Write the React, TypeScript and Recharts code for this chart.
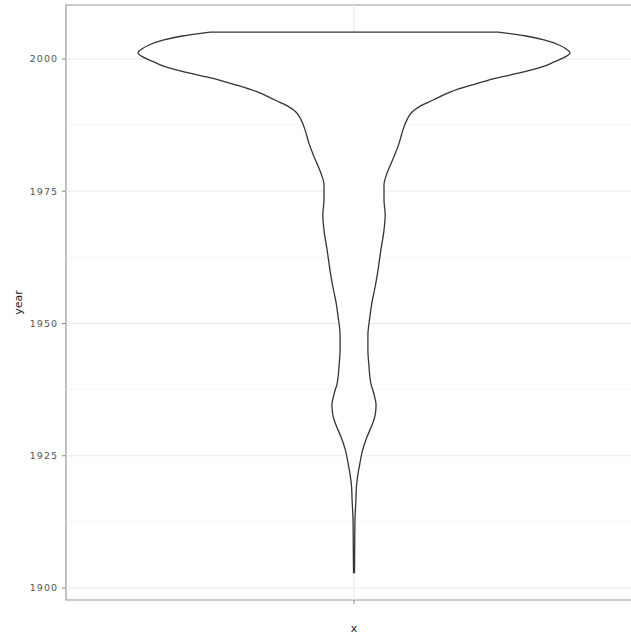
import React from "react";
import {
  ScatterChart,
  Scatter,
  XAxis,
  YAxis,
  ReferenceLine,
  ReferenceArea,
  Label,
} from "recharts";

// violin outline: year and half-width (x units, category at 1)
const years = [
  2005.1, 2004.35, 2003.6, 2002.65, 2001.9, 2001.15, 2000.4, 1999.45, 1998.5,
  1997.55, 1996.4, 1995.1, 1993.75, 1992.25, 1991.1, 1990.0, 1988.45, 1986.6,
  1984.1, 1981.5, 1978.45, 1976.2, 1973.35, 1970.5, 1967.65, 1963.9, 1960.1,
  1956.9, 1954.05, 1951.2, 1947.8, 1945.0, 1942.15, 1938.75, 1936.5, 1934.6,
  1932.7, 1930.8, 1928.55, 1926.1, 1923.65, 1921.4, 1919.1, 1916.65, 1912.9,
  1908.15, 1902.85,
];
const halfWidths = [
  0.3, 0.358, 0.396, 0.427, 0.442, 0.45, 0.44, 0.417, 0.392, 0.354, 0.296,
  0.246, 0.2, 0.165, 0.138, 0.121, 0.11, 0.102, 0.094, 0.083, 0.069, 0.0625,
  0.0625, 0.065, 0.0625, 0.056, 0.05, 0.044, 0.0375, 0.033, 0.029, 0.029,
  0.031, 0.035, 0.042, 0.046, 0.044, 0.0375, 0.027, 0.018, 0.0125, 0.008,
  0.005, 0.004, 0.002, 0.0015, 0.001,
];

const yTicks = [1900, 1925, 1950, 1975, 2000];
const yMinor = [1912.5, 1937.5, 1962.5, 1987.5];
const xCenter = 1;

const yDomain: [number, number] = [1897.73, 2010.21];
const xDomain: [number, number] = [0.4, 1.6];

const leftSide = years.map((y, i) => ({ x: xCenter - halfWidths[i], y }));
const rightSide = years.map((y, i) => ({ x: xCenter + halfWidths[i], y }));
const topEdge = [leftSide[0], rightSide[0]];
// closed shape for the white fill
const outline = [...leftSide, ...[...rightSide].reverse()];

const tickStyle = {
  fontSize: 9.5,
  fill: "#555",
  fontFamily: "DejaVu Sans",
  letterSpacing: 1,
};

const violinStroke = { stroke: "#333", strokeWidth: 1.3, fill: "none" };

export default function App() {
  return (
    <div
      style={{
        position: "absolute",
        left: 0,
        top: 0,
        width: 631,
        height: 636,
        overflow: "hidden",
        background: "#fff",
      }}
    >
      <ScatterChart
        width={650}
        height={636}
        margin={{ top: 5, right: 8, bottom: 0, left: 0 }}
      >
        <XAxis
          type="number"
          dataKey="x"
          domain={xDomain}
          ticks={[xCenter]}
          tickFormatter={() => ""}
          tickSize={4}
          axisLine={false}
          tickLine={{ stroke: "#888" }}
          height={36}
          allowDataOverflow
        >
          <Label
            value="x"
            position="insideBottom"
            offset={4}
            style={{ fontSize: 11, fill: "#222", fontFamily: "DejaVu Sans" }}
          />
        </XAxis>
        <YAxis
          type="number"
          dataKey="y"
          domain={yDomain}
          ticks={yTicks}
          width={66}
          tickSize={4}
          tickMargin={4}
          axisLine={false}
          tickLine={{ stroke: "#888" }}
          tick={tickStyle}
          allowDataOverflow
        >
          <Label
            content={({ viewBox }: any) => {
              const cx = 19;
              const cy = viewBox.y + viewBox.height / 2;
              return (
                <text
                  x={cx}
                  y={cy}
                  transform={`rotate(-90 ${cx} ${cy})`}
                  textAnchor="middle"
                  dominantBaseline="middle"
                  fontSize={11}
                  fill="#222"
                  fontFamily="DejaVu Sans"
                >
                  year
                </text>
              );
            }}
          />
        </YAxis>

        {yMinor.map((v) => (
          <ReferenceLine key={`m${v}`} y={v} stroke="#f3f3f3" strokeWidth={0.8} />
        ))}
        {yTicks.map((v) => (
          <ReferenceLine key={`M${v}`} y={v} stroke="#ebebeb" strokeWidth={1.2} />
        ))}
        <ReferenceLine x={xCenter} stroke="#ebebeb" strokeWidth={1.2} />

        {/* white body of the violin */}
        <Scatter
          data={outline}
          line={{ stroke: "none", fill: "#fff" }}
          lineJointType="linear"
          shape={() => <g />}
          isAnimationActive={false}
        />
        {/* smooth outline: both sides and the flat top */}
        <Scatter
          data={leftSide}
          line={violinStroke}
          lineJointType="monotoneY"
          shape={() => <g />}
          isAnimationActive={false}
        />
        <Scatter
          data={rightSide}
          line={violinStroke}
          lineJointType="monotoneY"
          shape={() => <g />}
          isAnimationActive={false}
        />
        <Scatter
          data={topEdge}
          line={violinStroke}
          lineJointType="linear"
          shape={() => <g />}
          isAnimationActive={false}
        />
        <Scatter
          data={[leftSide[leftSide.length - 1], rightSide[rightSide.length - 1]]}
          line={violinStroke}
          lineJointType="linear"
          shape={() => <g />}
          isAnimationActive={false}
        />

        <ReferenceArea
          x1={xDomain[0]}
          x2={xDomain[1]}
          y1={yDomain[0]}
          y2={yDomain[1]}
          fill="none"
          stroke="#999"
          strokeWidth={1.2}
        />
      </ScatterChart>
    </div>
  );
}
